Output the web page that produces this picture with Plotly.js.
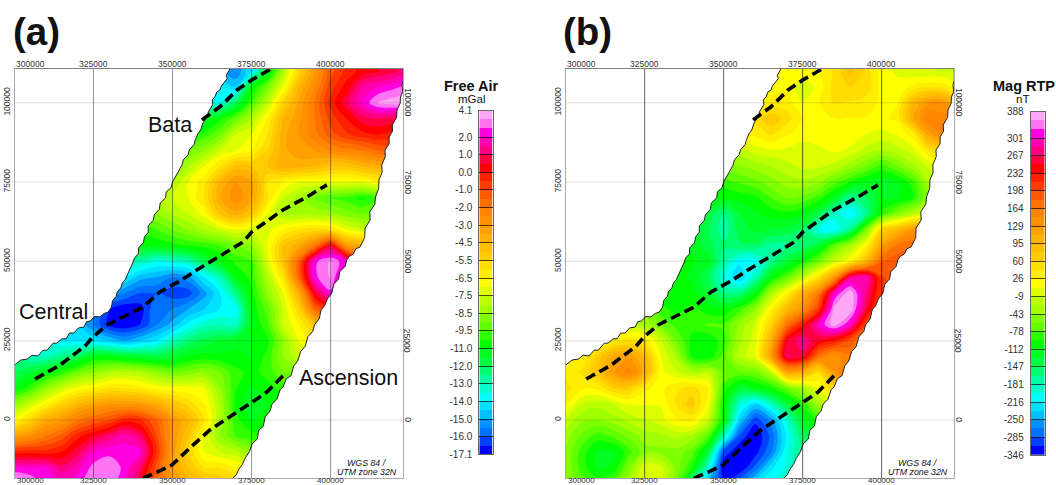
<!DOCTYPE html>
<html><head><meta charset="utf-8">
<script src="https://cdn.plot.ly/plotly-3.0.1.min.js"></script>
<style>html,body{margin:0;padding:0;background:#fff}</style></head>
<body><div id="chart" style="width:1056px;height:485px"></div>
<script>
const gridX=[300,305,310,315,320,325,330,335,340,345,350,355,360,365,370,375,380,385,390,395,400,405,410,415,420,425];
const gridY=[-20,-15,-10,-5,0,5,10,15,20,25,30,35,40,45,50,55,60,65,70,75,80,85,90,95,100,105,110,115];
const freeAir=[
[4,3.5,2.5,2,2.5,3.3,3,2.2,0.5,-1.5,-3,-4,-4.5,-5,-5.5,-6,-6,-6,-6,-6,-6,-6,-6,-6,-6,-6],
[2.2,2,2,1.2,1.8,3,3.2,2.5,1,-1.2,-3.5,-5,-6,-6,-6.5,-7,-7,-7,-7,-7,-7,-7,-7,-7,-7,-7],
[-0.3,-0.2,-0.3,0,0.8,2,2.5,2.3,2,-0.5,-3.2,-5.5,-7,-7.5,-7.8,-8.5,-9,-9,-9,-9,-9,-9,-9,-9,-9,-9],
[-3.5,-2.8,-2,-1.3,-0.2,0.5,1.2,1.8,1,-1,-3,-5,-7,-8.5,-9.5,-10,-10,-10,-10,-10,-10,-10,-10,-10,-10,-10],
[-6.8,-5.5,-4,-3,-2,-1.5,-1,-0.2,-0.5,-1.5,-3,-4.5,-6,-8,-10,-11,-10.5,-10,-10,-10,-10,-10,-10,-10,-10,-10],
[-8.5,-7.5,-6.5,-5.5,-4.5,-3.5,-3,-3,-3.2,-4,-5,-5.7,-6.5,-8,-10.5,-11.5,-11,-10.5,-10,-10,-10,-10,-10,-10,-10,-10],
[-11,-9.8,-8.5,-7.5,-6.8,-6.5,-6,-6,-6.3,-6.7,-6.8,-6.8,-7,-8.5,-10.2,-11,-10.5,-10,-9.5,-9.5,-9.5,-9.5,-9.5,-9.5,-9.5,-9.5],
[-12,-11.5,-11,-10,-9,-8.5,-8,-7.8,-8,-8.5,-9,-8.8,-8.5,-9,-10,-10.5,-10,-9,-9,-9,-9,-9,-9,-9,-9,-9],
[-12.5,-13,-13,-12.5,-12,-11,-11,-11.3,-11.5,-11.7,-11.5,-11,-10.7,-10.8,-10.8,-11,-10,-8.5,-7.5,-7,-7,-7,-7,-7,-7,-7],
[-12.8,-13,-13.5,-14,-14,-14.2,-14.5,-15,-14.5,-14,-13,-12.3,-11.8,-11.5,-11.2,-11,-10.5,-8.5,-7,-6,-5,-5,-5,-5,-5,-5],
[-13,-13.5,-14,-14,-14.5,-15.5,-16.8,-17,-16.5,-15.5,-14.8,-13.8,-13.2,-13,-13.2,-11,-9.7,-7.5,-6.5,-5,-4,-4,-4,-4,-4,-4],
[-14,-14,-14.5,-15,-15,-15,-16.5,-17,-16.8,-15.5,-15.5,-15,-14.5,-14,-13.8,-10.8,-9.3,-7.5,-5.5,-1.5,-0.5,-2,-2,-2,-2,-2],
[-14,-14.5,-15,-15,-15,-15,-15,-15.5,-16,-16,-16.3,-16.3,-15.2,-14,-12.5,-10.5,-8.5,-7,-4,0.5,2.5,0,-1,-1,-1,-1],
[-14,-14,-14,-14,-14,-14,-14,-14,-14.8,-15,-15.5,-15.2,-14,-13,-11,-10,-8,-6,-1.5,2.5,3.5,1,-1,-2,-2,-2],
[-13,-13,-13,-13,-13,-13,-13,-13,-13,-13.5,-13.3,-13,-11.8,-11,-10,-9.5,-7.3,-5,-1.5,2.5,3.5,2,-1,-2,-2,-2],
[-12,-12,-12,-12,-12,-12,-12,-11.5,-11,-10.8,-10.5,-10.2,-10,-9.5,-9,-8.5,-7,-5,-4,-2,0.5,-3,-4,-5,-5,-5],
[-10,-10,-10,-10,-10,-10,-10,-10,-10,-9.5,-9,-8.5,-8,-7.5,-7,-7.3,-7.2,-6.5,-6,-5.8,-6,-7,-7.5,-8,-8,-8],
[-9,-9,-9,-9,-9,-9,-9,-9,-9,-8.5,-8,-7.5,-6.8,-5,-4,-5,-7,-8,-8.2,-8.2,-8.3,-8.8,-9,-9,-9,-9],
[-8,-8,-8,-8,-8,-8,-8,-8,-8,-8,-7.5,-7,-6,-3.8,-2.7,-3.5,-6,-7.5,-8.2,-9,-9.5,-9.8,-10.5,-9.5,-9,-9],
[-8.5,-8.5,-8.5,-8.5,-8.5,-8.5,-8.5,-8.5,-8.5,-8.5,-8,-7,-6.2,-4.5,-3,-3.5,-6,-6.5,-7,-7,-7,-7,-7,-6.5,-6,-6],
[-9,-9,-9,-9,-9,-9,-9,-9,-9,-9,-9,-8,-7,-6,-4.8,-5,-5,-4,-4.2,-4.5,-5,-5,-4.5,-4,-3.5,-3],
[-9.5,-9.5,-9.5,-9.5,-9.5,-9.5,-9.5,-9.5,-9.5,-9.5,-9.5,-9,-8.5,-7.5,-7,-6.5,-5.5,-4,-3.2,-3,-2.5,-2.2,-2,-1.5,-1.2,-1],
[-10.5,-10.5,-10.5,-10.5,-10.5,-10.5,-10.5,-10.5,-10.5,-10.5,-10.5,-10.5,-10,-9,-7.5,-7,-6,-4,-3,-2.2,-1.2,-0.6,-0.2,0,-0.2,-0.3],
[-12,-12,-12,-12,-12,-12,-12,-12,-12,-12,-12,-12,-11.5,-10.5,-9.2,-8,-6.5,-4.5,-3.2,-2,-0.8,0,0.8,1,0.8,0.5],
[-13.5,-13.5,-13.5,-13.5,-13.5,-13.5,-13.5,-13.5,-13.5,-13.5,-13.5,-13.5,-13.5,-13.5,-12,-9.5,-7.7,-5.5,-3.5,-2,-0.3,0.8,2,3.5,3.8,4],
[-14,-14,-14,-14,-14,-14,-14,-14,-14,-14,-14,-14,-14,-14,-14.5,-11,-9,-7,-4.5,-2.5,-0.7,0.2,1.5,2,2.5,3],
[-15,-15,-15,-15,-15,-15,-15,-15,-15,-15,-15,-15,-15,-15,-15.5,-14,-11.5,-8,-5.5,-3,-1.2,-0.3,0.2,0.5,0.8,1.5],
[-15,-15,-15,-15,-15,-15,-15,-15,-15,-15,-15,-15,-15,-15,-15.5,-14,-11.5,-8,-5.5,-3,-1.2,-0.3,0.2,0.5,0.8,1.5]
];
const magRTP=[
[-40,-70,-80,-70,-25,10,-5,-60,-180,-250,-320,-270,-220,-200,-185,-160,-160,-160,-160,-160,-160,-160,-160,-160,-160,-160],
[-45,-85,-115,-110,-55,5,0,-50,-95,-190,-346,-346,-280,-220,-195,-160,-160,-160,-160,-160,-160,-160,-160,-160,-160,-160],
[-45,-85,-115,-115,-85,-50,-50,-50,-70,-130,-290,-346,-330,-270,-200,-160,-140,-140,-140,-140,-140,-140,-140,-140,-140,-140],
[-35,-65,-85,-75,-55,-35,-30,-20,-30,-70,-180,-290,-346,-280,-210,-150,-120,-120,-120,-120,-120,-120,-120,-120,-120,-120],
[-10,-40,-45,-35,-20,-10,0,25,30,-10,-110,-230,-305,-260,-190,-125,-90,-60,-60,-60,-60,-60,-60,-60,-60,-60],
[30,-10,-20,-10,10,10,10,45,70,20,-105,-190,-230,-185,-135,-90,-30,0,0,0,0,0,0,0,0,0],
[50,30,30,60,65,30,20,40,50,30,-85,-130,-115,-100,-65,-30,10,60,100,100,100,100,100,100,100,100],
[35,45,75,125,155,105,15,-5,-25,-15,-65,-65,-60,-20,110,100,45,130,190,190,190,190,190,190,190,190],
[20,30,65,110,125,90,10,-30,-100,-110,-70,-20,5,120,270,260,170,130,165,170,170,170,170,170,170,170],
[0,5,10,30,40,35,-5,-60,-100,-110,-85,-30,0,100,250,280,250,230,190,160,160,160,160,160,160,160],
[-15,-15,-15,-15,-15,-30,-60,-85,-90,-75,-75,-40,-5,60,170,230,300,375,300,200,170,170,170,170,170,170],
[-50,-50,-50,-50,-50,-50,-90,-100,-90,-105,-110,-85,-45,25,90,140,210,370,385,260,180,170,170,170,170,170],
[-105,-105,-105,-105,-105,-105,-105,-105,-105,-130,-165,-160,-115,-30,25,95,160,300,380,280,205,190,190,190,190,190],
[-105,-105,-105,-105,-105,-105,-105,-105,-115,-145,-195,-235,-180,-110,-70,-15,45,130,280,300,200,190,190,190,190,190],
[-105,-105,-105,-105,-105,-105,-105,-105,-110,-120,-175,-210,-210,-165,-135,-100,-60,-10,25,90,180,190,200,200,200,200],
[-115,-115,-115,-115,-115,-115,-115,-115,-115,-140,-160,-150,-150,-170,-170,-160,-130,-70,-30,20,120,170,180,180,180,180],
[-125,-125,-125,-125,-125,-125,-125,-125,-125,-145,-175,-140,-125,-130,-135,-150,-200,-215,-165,-60,60,90,130,130,130,130],
[-120,-120,-120,-120,-120,-120,-120,-120,-120,-135,-165,-130,-115,-105,-100,-110,-140,-190,-215,-170,-90,-50,-20,10,30,30],
[-105,-105,-105,-105,-105,-105,-105,-105,-105,-105,-110,-105,-100,-78,-60,-65,-85,-120,-170,-150,-115,-115,-95,-40,-10,-10],
[-90,-90,-90,-90,-90,-90,-90,-90,-90,-90,-85,-75,-65,-50,-35,-30,-40,-70,-95,-115,-120,-115,-85,-25,-5,-5],
[-45,-45,-45,-45,-45,-45,-45,-45,-45,-45,-45,-45,-35,-25,-15,-5,-5,-15,-35,-60,-85,-60,-30,-5,5,5],
[-15,-15,-15,-15,-15,-15,-15,-15,-15,-15,-15,-15,0,5,5,-5,5,12,5,-15,-25,-15,0,45,60,60],
[30,30,30,30,30,30,30,30,30,30,30,30,30,45,28,20,18,15,20,8,3,10,35,120,150,130],
[30,30,30,30,30,30,30,30,30,30,30,30,50,75,50,25,25,26,25,25,22,30,110,160,155,130],
[30,30,30,30,30,30,30,30,30,30,30,30,30,30,35,10,25,45,42,35,22,25,95,130,130,70],
[22,22,22,22,22,22,22,22,22,22,22,22,22,22,22,-5,15,50,60,55,20,15,30,40,35,10],
[20,20,20,20,20,20,20,20,20,20,20,20,20,20,25,22,25,45,85,55,15,5,-5,-8,-10,-10],
[20,20,20,20,20,20,20,20,20,20,20,20,20,20,25,22,25,45,85,55,15,5,-5,-8,-10,-10]
];
const freeAirTicks=[-17.1,-16,-15,-14,-13,-12,-11,-9.5,-8.5,-7.5,-6.5,-5.5,-4.5,-3,-2,-1,0,1,2,4.1];
const freeAirLabels=["-17.1","-16.0","-15.0","-14.0","-13.0","-12.0","-11.0","-9.5","-8.5","-7.5","-6.5","-5.5","-4.5","-3.0","-2.0","-1.0","0.0","1.0","2.0","4.1"];
const magTicks=[-346,-285,-250,-216,-181,-147,-112,-78,-43,-9,26,60,95,129,164,198,232,267,301,388];
const magLabels=magTicks.map(String);
const bandTicks=[0,2,4,6,8,10,12,14,16,18,20,22,24,26,28,30,32,34,36,39];
const bandColors=["#0000ff","#0040ff","#0070ff","#0090ff","#00c0ff","#00e0ff","#00ffff","#00ffcc","#00ffa0","#00ff70","#00ff40","#00ff20","#00ff00","#30ff00","#60ff00","#80ff00","#a0ff00","#bcff00","#dcff00","#ffff00","#ffee00","#ffdd00","#ffcc00","#ffbe00","#ffb000","#ffa000","#ff9000","#ff8400","#ff7000","#ff5a00","#ff3c00","#ff2000","#ff0000","#ff0040","#ff0080","#ff00b0","#ff00e0","#ff73f5","#ffa6f5"];
const edgeLeftX=[368.2,367.0,367.3,365.9,365.4,365.0,364.0,363.5,362.6,362.7,361.3,361.2,360.4,359.6,358.9,358.0,357.2,356.8,355.3,354.9,353.4,353.0,351.8,351.1,350.0,349.5,348.0,347.8,346.1,345.8,344.2,343.9,342.3,342.3,341.1,340.8,339.2,339.2,338.0,337.4,336.4,335.7,335.0,334.1,333.6,332.5,332.2,331.0,330.7,329.6,328.4,327.0,325.4,323.9,322.8,322.0,320.2,318.8,317.4,316.3,315.0,313.4,312.2,310.3,309.0,307.4,305.5,304.0,302.0,300.0];
const edgeLeftY=[110.8,108.6,107.6,106.0,105.2,104.0,103.4,102.0,100.9,99.4,97.1,96.0,94.6,93.6,91.4,90.2,88.3,86.8,85.1,83.6,82.0,80.4,78.2,76.9,75.1,73.2,71.9,70.0,68.4,66.4,64.6,62.9,61.2,59.2,57.7,55.9,54.2,52.4,51.1,49.5,47.5,45.7,44.2,43.2,41.6,40.4,39.0,37.6,35.6,34.0,33.6,32.5,32.6,31.2,31.0,29.3,29.0,27.4,27.4,25.6,25.6,24.2,24.2,22.0,22.0,20.2,20.4,19.2,18.9,17.3];
const edgeRightX=[423.0,423,422.6,422.8,422.1,422,421.0,420.9,419.5,419.6,418.5,418.5,417.2,417.3,416.2,416.3,415.3,415.2,414.2,414,412.4,412.5,410.9,410.8,409.3,408,407.2,405.9,405.1,404.6,402.9,402.5,401.0,400.4,399,398.1,397,396.4,394.9,394.4,392.8,392,390.5,389.6,388.3,387.5,386,385,384,383,381.5,380.8,379.3,378.7,377.3,376.8,375.2,374.3,373,372.1,371,370.2,369.1,368.2];
const edgeRightY=[110.8,107,105.6,103.5,101.8,99.8,97.7,95.4,93.0,91,89.2,87,85.1,83,80.4,78,75.7,73,70.3,68,65.6,63,60.5,57.5,54.5,54,52.3,51.6,50.4,48.4,46.7,44.4,42.8,40,38.2,36,34.7,31.9,30,28,26.2,23.3,21.5,18.6,17,14,13,10.5,9.5,6.5,5,2.8,1,-2,-3.2,-6,-7.5,-10,-12,-14,-15.5,-17.2,-18.3,-20];
const bataX=[359.3,365.0,370.4,375.1,381.4],bataY=[94.6,98.7,104.0,107.2,110.8];
const centralX=[306.5,314.4,322.3,324.8,329.25,334.95,340.6,346.0,352.3,357.7,362.8,372.3,375.1,384.9,392.5,398.8];
const centralY=[12.9,17.3,23.3,26.2,29.95,32.8,35.6,40.35,43.8,47.3,50.4,56.1,59.3,66.2,70.3,74.1];
const ascX=[384.9,379.85,373.8,369.1,361.8,355.5,349.8,345.1,340.6,337];
const ascY=[13.9,8.8,4.7,1.6,-3.15,-8.8,-14.2,-16.4,-18.3,-20];
const xTicks=[300000,325000,350000,375000,400000];
const yTicks=[0,25000,50000,75000,100000];
const xRange=[300000,423000],yRange=[-18380,110780];
const W=1056,H=485;
const m=a=>a.map(v=>v*1000);
const rank=(v,t,b)=>{for(let i=0;i<t.length-1;i++){if(v<=t[i+1])return b[i]+(Math.max(v,t[i])-t[i])/(t[i+1]-t[i])*(b[i+1]-b[i]);}return b[b.length-1];};
const cs=bandColors.map((c,i)=>[i/38,c]);
const bandIdx=bandColors.map((c,i)=>i);
const dx=a=>[a[0]/W,a[1]/W],dy=a=>[1-a[1]/H,1-a[0]/H];
function contour(z,t,ax,ay){return{type:'contour',x:m(gridX),y:m(gridY),z:z.map(r=>r.map(v=>rank(v,t,bandTicks))),xaxis:ax,yaxis:ay,colorscale:cs,showscale:false,hoverinfo:'skip',autocontour:false,contours:{start:1,end:38,size:1,coloring:'fill',showlines:false},line:{width:0,smoothing:1}};}
function mask(ax,ay){
 return [{type:'scatter',mode:'lines',x:m(edgeLeftX.concat([295,295])),y:m(edgeLeftY.concat([17.3,115])),xaxis:ax,yaxis:ay,fill:'toself',fillcolor:'#fff',line:{width:0},hoverinfo:'skip'},
 {type:'scatter',mode:'lines',x:m(edgeRightX.concat([430,430])),y:m(edgeRightY.concat([-25,115])),xaxis:ax,yaxis:ay,fill:'toself',fillcolor:'#fff',line:{width:0},hoverinfo:'skip'},
 {type:'scatter',mode:'lines',x:m(edgeLeftX),y:m(edgeLeftY),xaxis:ax,yaxis:ay,line:{color:'#222',width:1},hoverinfo:'skip'},
 {type:'scatter',mode:'lines',x:m(edgeRightX),y:m(edgeRightY),xaxis:ax,yaxis:ay,line:{color:'#222',width:1},hoverinfo:'skip'}];
}
function faults(ax,ay){return [[bataX,bataY],[centralX,centralY],[ascX,ascY]].map(p=>({type:'scatter',mode:'lines',x:m(p[0]),y:m(p[1]),xaxis:ax,yaxis:ay,line:{color:'#000',width:3.6,dash:'10px,5px'},hoverinfo:'skip'}));}
function legendBar(ax,ay){return{type:'heatmap',x:[0,1],y:bandIdx.concat([39]),z:bandIdx.map(i=>[i]),xaxis:ax,yaxis:ay,colorscale:cs,zmin:0,zmax:38,showscale:false,hoverinfo:'skip'};}
const data=[contour(freeAir,freeAirTicks,'x','y'),...mask('x','y'),...faults('x','y'),
 contour(magRTP,magTicks,'x2','y2'),...mask('x2','y2'),...faults('x2','y2'),
 legendBar('x3','y3'),legendBar('x4','y4')];
const F='Liberation Sans, Arial, sans-serif';
const frame={showline:true,linecolor:'#aaa',linewidth:1,mirror:true,showgrid:false,zeroline:false,fixedrange:true,ticks:'',tickfont:{family:F,size:8.5,color:'#333'}};
function xAxis(anchor,dom){return Object.assign({},frame,{anchor,domain:dom,range:xRange,showticklabels:false});}
function yAxis(anchor,dom){return Object.assign({},frame,{anchor,domain:dom,range:yRange,tickmode:'array',tickvals:yTicks,ticktext:yTicks.map(String),tickangle:-90});}
function lx(anchor,dom){return{anchor,domain:dom,range:[0,1],showticklabels:false,ticks:'',showgrid:false,zeroline:false,showline:true,mirror:true,linecolor:'#666',linewidth:1,fixedrange:true};}
function ly(anchor,dom,labels){return{anchor,domain:dom,range:[0,39],tickmode:'array',tickvals:bandTicks,ticktext:labels,ticks:'inside',ticklen:14,tickcolor:'rgba(0,0,0,0.7)',tickwidth:1,layer:'above traces',tickfont:{family:F,size:10,color:'#333'},showgrid:false,zeroline:false,showline:true,mirror:true,linecolor:'#666',linewidth:1,fixedrange:true,ticklabelstandoff:4};}
const pxA=[14.5,403.3],pxB=[565.7,954.3],pxY=[68.5,478.3];
const layout={width:W,height:H,margin:{l:0,r:0,t:0,b:0,pad:0},paper_bgcolor:'#fff',plot_bgcolor:'#fff',showlegend:false,
 xaxis:xAxis('y',dx(pxA)),yaxis:yAxis('x',dy(pxY)),xaxis2:xAxis('y2',dx(pxB)),yaxis2:yAxis('x2',dy(pxY)),
 xaxis3:lx('y3',dx([479.3,492.7])),yaxis3:ly('x3',dy([110.6,454.4]),freeAirLabels),
 xaxis4:lx('y4',dx([1030.7,1044.7])),yaxis4:ly('x4',dy([111.7,455]),magLabels),
 shapes:[],annotations:[]};
const panels=[{xr:'x',yr:'y',op:0.42},{xr:'x2',yr:'y2',op:0.62}];
panels.forEach(p=>{
 xTicks.slice(1).forEach(v=>layout.shapes.push({type:'line',xref:p.xr,yref:p.yr,x0:v,x1:v,y0:yRange[0],y1:yRange[1],layer:'above',line:{color:`rgba(0,0,0,${p.op})`,width:1}}));
 yTicks.forEach(v=>layout.shapes.push({type:'line',xref:p.xr,yref:p.yr,x0:xRange[0],x1:xRange[1],y0:v,y1:v,layer:'above',line:{color:'rgba(0,0,0,0.09)',width:1.5}}));
 layout.shapes.push({type:'line',xref:p.xr,yref:p.yr,x0:xRange[0],x1:xRange[1],y0:yRange[1],y1:yRange[1],layer:'above',line:{color:'#555',width:1}});
});
const A=layout.annotations;
const txt=(text,x,y,size,opt)=>A.push(Object.assign({text,x:x/W,y:1-y/H,xref:'paper',yref:'paper',showarrow:false,xanchor:'center',yanchor:'middle',font:{family:F,size,color:'#111'}},opt||{}));
[[14.5,403.3],[565.7,954.3]].forEach((r,i)=>{
 const off=r[0],sc=(r[1]-r[0])/(xRange[1]-xRange[0]);
 const f8={font:{family:F,size:8.5,color:'#333'}};
 xTicks.forEach(v=>{const px=off+(v-xRange[0])*sc;
  const cx=v===300000?off+16:px;
  txt(String(v),cx,64,8.5,f8);
  txt(String(v),cx,480.4,8,{font:{family:F,size:8,color:'#333'}});});
 yTicks.forEach(v=>{const py=478.3-(v-yRange[0])*(478.3-68.5)/(yRange[1]-yRange[0]);
  txt(String(v),r[1]+4.5,py,8.5,Object.assign({textangle:90},f8));});
});
txt('(a)',36.5,32,38.5,{font:{family:F,size:38.5,color:'#111',weight:700}});
txt('(b)',587.5,32,38.5,{font:{family:F,size:38.5,color:'#111',weight:700}});
txt('Bata',170,125,21.5);txt('Central',53.5,312,21.5);txt('Ascension',348,378,21.5);
txt('Free Air',471,85.5,14.5,{font:{family:F,size:14.5,color:'#111',weight:700}});
txt('mGal',471,99.5,11.5);
txt('Mag RTP',1024,85.5,14.5,{font:{family:F,size:14.5,color:'#111',weight:700}});
txt('nT',1022,99.5,11.5);
[[367],[917.5]].forEach(c=>{
 txt('<i>WGS 84 /</i>',c[0],462.5,8.8);txt('<i>UTM zone 32N</i>',c[0],472,8.8);});
Plotly.newPlot('chart',data,layout,{displayModeBar:false,staticPlot:true});
</script></body></html>
